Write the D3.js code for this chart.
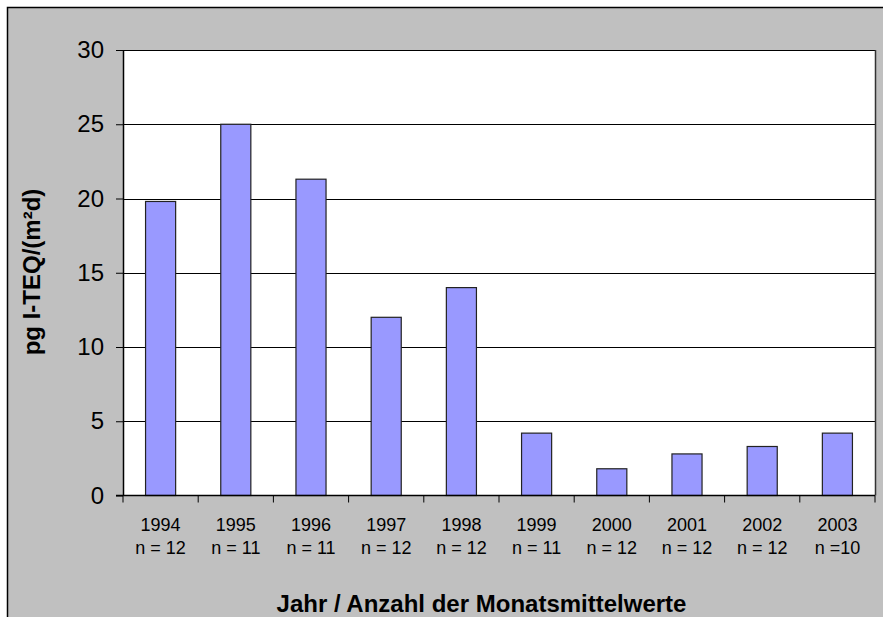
<!DOCTYPE html>
<html>
<head>
<meta charset="utf-8">
<script src="https://cdn.jsdelivr.net/npm/d3@7"></script>
<style>
  body { margin: 0; background: #fff; }
  svg { display: block; font-family: "Liberation Sans", Arial, sans-serif; }
</style>
</head>
<body>
<div id="wrapper"></div>
<script>
const years = ["1994", "1995", "1996", "1997", "1998", "1999", "2000", "2001", "2002", "2003"]
const counts = ["n = 12", "n = 11", "n = 11", "n = 12", "n = 12", "n = 11", "n = 12", "n = 12", "n = 12", "n  =10"]
const values = [19.8, 25.0, 21.3, 12.0, 14.0, 4.2, 1.8, 2.8, 3.3, 4.2]
const yTicks = [0, 5, 10, 15, 20, 25, 30]

const dimensions = {
  width: 883,
  height: 617,
  margin: { top: 50, right: 8, bottom: 122, left: 123 }
}
dimensions.boundedWidth = 875 - dimensions.margin.left
dimensions.boundedHeight = 495.5 - dimensions.margin.top

const wrapper = d3.select('#wrapper')
  .append('svg')
  .attr('width', dimensions.width)
  .attr('height', dimensions.height)

// chart area
wrapper.append('rect')
  .attr('x', 7.5).attr('y', 7.5)
  .attr('width', dimensions.width)
  .attr('height', dimensions.height)
  .attr('fill', '#c0c0c0')
  .attr('stroke', '#000')
  .attr('stroke-width', 1.5)

const bounds = wrapper.append('g')
  .attr('transform', `translate(${dimensions.margin.left}, ${dimensions.margin.top})`)

const xScale = d3.scaleBand()
  .domain(years)
  .range([0, dimensions.boundedWidth])
  .paddingInner(0.6)
  .paddingOuter(0.3)

const xBand = d3.scaleBand()
  .domain(years)
  .range([0, dimensions.boundedWidth])

const yScale = d3.scaleLinear()
  .domain([0, 30])
  .range([dimensions.boundedHeight, 0])

// plot area
bounds.append('rect')
  .attr('width', dimensions.boundedWidth)
  .attr('height', dimensions.boundedHeight)
  .attr('fill', '#fff')

// gridlines
bounds.append('g')
  .selectAll('line')
  .data(yTicks.filter(d => d > 0))
  .join('line')
  .attr('x1', 0)
  .attr('x2', dimensions.boundedWidth)
  .attr('y1', d => Math.round(yScale(d)) + 0.5)
  .attr('y2', d => Math.round(yScale(d)) + 0.5)
  .attr('stroke', '#000')
  .attr('stroke-width', 1)

// right frame
bounds.append('line')
  .attr('x1', dimensions.boundedWidth + 0.5).attr('x2', dimensions.boundedWidth + 0.5)
  .attr('y1', 0).attr('y2', dimensions.boundedHeight)
  .attr('stroke', '#333')
  .attr('stroke-width', 1.5)

// bars
bounds.append('g')
  .selectAll('rect')
  .data(values)
  .join('rect')
  .attr('x', (d, i) => xScale(years[i]))
  .attr('y', d => yScale(d))
  .attr('width', xScale.bandwidth())
  .attr('height', d => dimensions.boundedHeight - yScale(d))
  .attr('fill', '#9999ff')
  .attr('stroke', '#222')
  .attr('stroke-width', 1.2)

// y axis
const yAxis = bounds.append('g')
  .call(d3.axisLeft(yScale).tickValues(yTicks).tickSize(7).tickPadding(12))
yAxis.select('.domain').attr('stroke', '#000').attr('stroke-width', 1.5)
  .attr('d', `M0.5,0V${dimensions.boundedHeight}`)
yAxis.selectAll('.tick line').attr('stroke', '#000')
yAxis.selectAll('text')
  .attr('font-size', 24)
  .attr('fill', '#000')
  .style('font-family', '"Liberation Sans", Arial, sans-serif')

// x axis
const xAxis = bounds.append('g')
  .attr('transform', `translate(0, ${dimensions.boundedHeight})`)
xAxis.append('line')
  .attr('x1', -7).attr('x2', dimensions.boundedWidth)
  .attr('y1', 0).attr('y2', 0)
  .attr('stroke', '#000')
  .attr('stroke-width', 1.5)
xAxis.selectAll('.xtick')
  .data(years.concat(['end']))
  .join('line')
  .attr('class', 'xtick')
  .attr('x1', (d, i) => i < years.length ? xBand(d) : dimensions.boundedWidth)
  .attr('x2', (d, i) => i < years.length ? xBand(d) : dimensions.boundedWidth)
  .attr('y1', 0).attr('y2', 7)
  .attr('stroke', '#000')

const xLabels = xAxis.selectAll('.xlabel')
  .data(years)
  .join('text')
  .attr('class', 'xlabel')
  .attr('x', d => xBand(d) + xBand.bandwidth() / 2)
  .attr('text-anchor', 'middle')
  .attr('font-size', 18)
  .attr('fill', '#000')
xLabels.append('tspan')
  .attr('x', d => xBand(d) + xBand.bandwidth() / 2)
  .attr('y', 35)
  .text(d => d)
xLabels.append('tspan')
  .attr('x', d => xBand(d) + xBand.bandwidth() / 2)
  .attr('y', 58)
  .text((d, i) => counts[i])

// axis titles
wrapper.append('text')
  .attr('x', 481.5)
  .attr('y', 612)
  .attr('text-anchor', 'middle')
  .attr('font-size', 24)
  .attr('font-weight', 'bold')
  .text('Jahr / Anzahl der Monatsmittelwerte')

wrapper.append('text')
  .attr('transform', 'translate(40, 272) rotate(-90)')
  .attr('text-anchor', 'middle')
  .attr('font-size', 24)
  .attr('font-weight', 'bold')
  .text('pg I-TEQ/(m²d)')
</script>
</body>
</html>
